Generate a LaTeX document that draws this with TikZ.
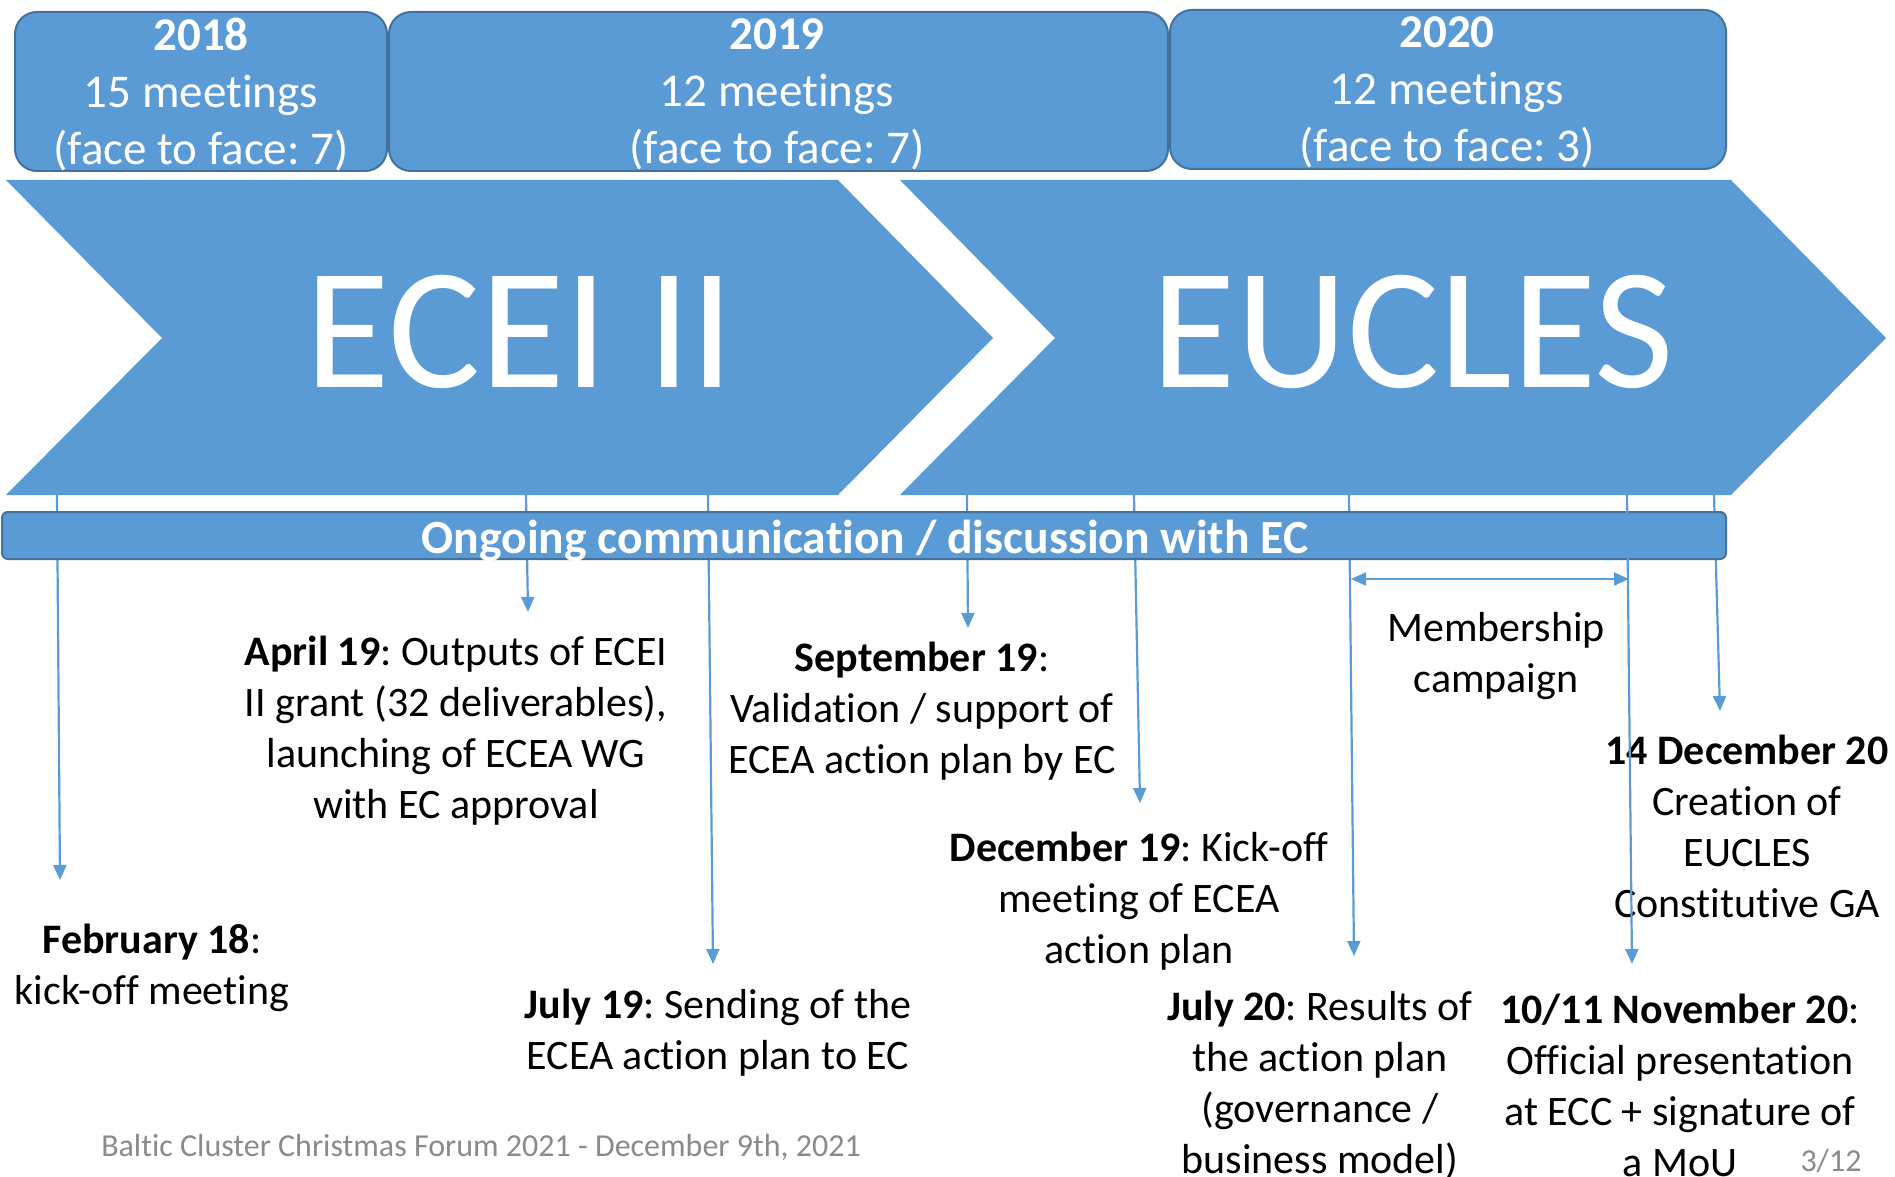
\documentclass[tikz,border=0pt]{standalone}
\usepackage{fontspec}
\setmainfont{Carlito}[Ligatures=NoCommon]
\usetikzlibrary{arrows.meta}
\definecolor{ofblue}{HTML}{5B9BD5}
\definecolor{ofdark}{HTML}{41719C}
\definecolor{footgray}{HTML}{8A8A8A}
\begin{document}
\frenchspacing
\begin{tikzpicture}[x=1pt,y=-1pt,
  yearbox/.style={draw=ofdark, line width=2pt, fill=ofblue, rounded corners=22pt, minimum height=159pt, inner sep=0pt},
  yeartext/.style={text=white, align=center, font=\fontsize{47}{57}\selectfont, inner sep=0pt},
  bigtext/.style={text=white, font=\fontsize{173}{200}\selectfont, inner sep=0pt, anchor=base},
  desc/.style={align=center, font=\fontsize{42}{51}\selectfont, inner sep=0pt},
  conn/.style={draw=ofblue, line width=2.2pt, -{Triangle[length=15pt,width=13pt]}},
  dconn/.style={draw=ofblue, line width=2.2pt, {Triangle[length=15pt,width=13pt]}-{Triangle[length=15pt,width=13pt]}},
  chev/.style={fill=ofblue},
  foot/.style={text=footgray, font=\fontsize{32}{38}\selectfont, inner sep=0pt}
]
\useasboundingbox (0,0) rectangle (1895,1177);

% chevrons
\fill[chev] (6,180) -- (838,180) -- (993,338) -- (838,495) -- (6,495) -- (162,338) -- cycle;
\fill[chev] (900,180) -- (1731,180) -- (1886,338) -- (1731,495) -- (900,495) -- (1055,338) -- cycle;
\node[bigtext] (ecei) at (520,387) {ECEI II};
\node[bigtext] (eucles) at (1413,387) {EUCLES};

% connector coordinates
\coordinate (s1) at (57,495);   \coordinate (e1) at (60,880);
\coordinate (s2) at (526,495);  \coordinate (e2) at (528,612);
\coordinate (s3) at (708,495);  \coordinate (e3) at (713,964);
\coordinate (s4) at (967,495);  \coordinate (e4) at (968,628);
\coordinate (s5) at (1134,495); \coordinate (e5) at (1140,803);
\coordinate (s6) at (1349,495); \coordinate (e6) at (1354,956);
\coordinate (s7) at (1627,495); \coordinate (e7) at (1632,964);
\coordinate (s8) at (1714,495); \coordinate (e8) at (1720,711);
\coordinate (m1) at (1351,579); \coordinate (m2) at (1629,579);

\draw[conn] (s1) -- (e1);
\draw[conn] (s2) -- (e2);
\draw[conn] (s3) -- (e3);
\draw[conn] (s4) -- (e4);
\draw[conn] (s5) -- (e5);
\draw[conn] (s6) -- (e6);
\draw[conn] (s8) -- (e8);

% communication bar
\node[draw=ofdark, line width=2pt, fill=ofblue, rounded corners=6pt, minimum width=1724pt, minimum height=47pt, inner sep=0pt] (bar) at (864,535.5) {};
\node[text=white, font=\fontsize{47.6}{56}\selectfont\bfseries, inner sep=0pt, anchor=base] (bartext) at (865,553) {Ongoing communication / discussion with EC};

% year boxes
\node[yearbox, minimum width=372pt] (b18) at (201,91.5) {};
\node[yearbox, minimum width=779pt] (b19) at (778.5,91.5) {};
\node[yearbox, minimum width=556pt] (b20) at (1448,89.5) {};
\node[yeartext] (t18) at (201,94.5) {\textbf{2018}\\15 meetings\\(face to face: 7)};
\node[yeartext] (t19) at (777,94.5) {\textbf{2019}\\12 meetings\\(face to face: 7)};
\node[yeartext] (t20) at (1447,92.5) {\textbf{2020}\\12 meetings\\(face to face: 3)};

% descriptions
\node[desc] (feb) at (152,968) {\textbf{February 18}:\\kick-off meeting};
\node[desc] (apr) at (456,731) {\textbf{April 19}: Outputs of ECEI\\II grant (32 deliverables),\\launching of ECEA WG\\with EC approval};
\node[desc] (sep) at (922,711) {\textbf{September 19}:\\Validation / support of\\ECEA action plan by EC};
\node[desc] (jul19) at (718,1033) {\textbf{July 19}: Sending of the\\ECEA action plan to EC};
\node[desc] (dec19) at (1139,901) {\textbf{December 19}: Kick-off\\meeting of ECEA\\action plan};
\node[desc] (memb) at (1496,656) {Membership\\campaign};
\node[desc] (dec20) at (1747,826) {\textbf{14 December 20}\\Creation of\\EUCLES\\Constitutive GA};
\node[desc] (jul20) at (1320,1085) {\textbf{July 20}: Results of\\the action plan\\(governance /\\business model)};
\node[desc] (nov20) at (1680,1085) {\textbf{10/11 November 20}:\\Official presentation\\at ECC + signature of\\a MoU};

% footer
\node[foot] (footer) at (481,1147) {Baltic Cluster Christmas Forum 2021 - December 9th, 2021};
\node[foot] (page) at (1831,1161) {3/12};

% connectors drawn on top
\draw[conn] (s7) -- (e7);
\draw[dconn] (m1) -- (m2);
\end{tikzpicture}
\end{document}
